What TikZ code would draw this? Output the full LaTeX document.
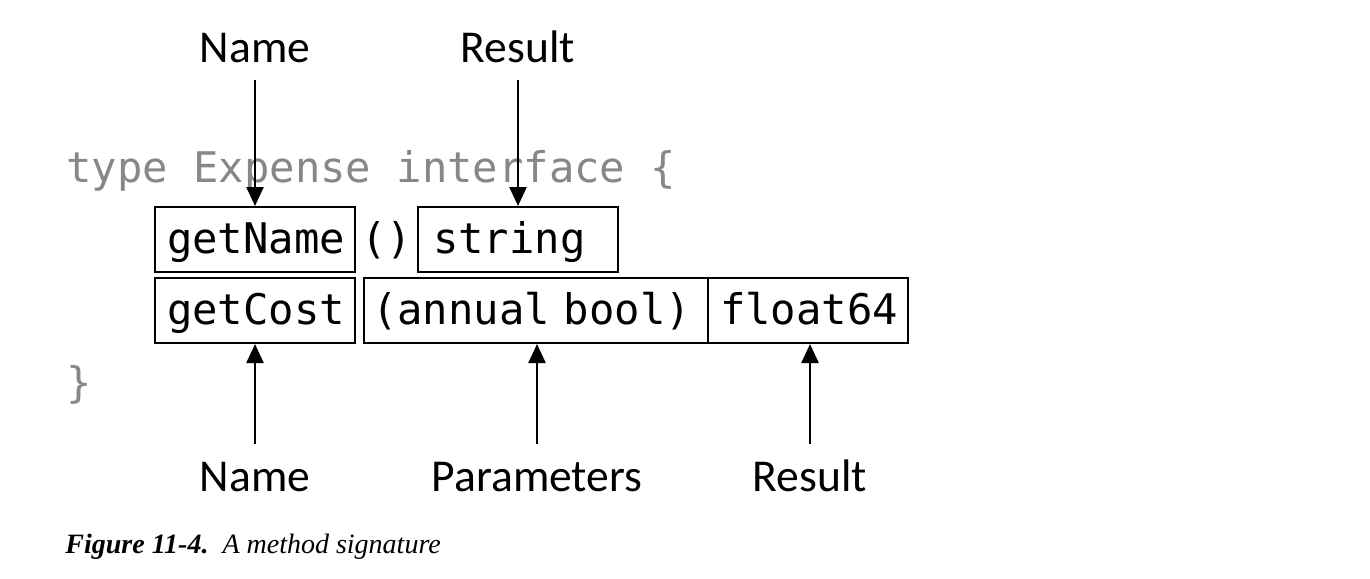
\documentclass[tikz,border=0pt]{standalone}
\usepackage{fontspec}
\setmainfont{Liberation Serif}
\newfontfamily\codefont{DejaVu Sans Mono}
\newfontfamily\labfont{Carlito}
\usetikzlibrary{arrows.meta}
\definecolor{codegray}{RGB}{135,135,135}
\begin{document}
\begin{tikzpicture}[x=0.5pt,y=-0.5pt,
  code/.style={font=\codefont\fontsize{21.1}{24}\selectfont, inner sep=0pt},
  codebox/.style={draw, line width=1pt, font=\codefont\fontsize{21.1}{24}\selectfont,
     minimum height=32.5pt, inner xsep=6pt, inner ysep=0pt, align=left,
     text height=17pt, text depth=3.5pt},
  lab/.style={font=\labfont\fontsize{22.8}{26}\selectfont, inner sep=0pt, text height=14.5pt, text depth=0pt},
  arr/.style={line width=1.2pt, -{Triangle[width=8.5pt,length=9.5pt]}},
  captext/.style={inner sep=0pt, font=\fontsize{14}{17}\selectfont}]
\useasboundingbox (0,0) rectangle (1370,578);
% code lines
\node[code, text=codegray, anchor=base west] (typeline) at (66,182) {type Expense interface \{};
\node[code, text=codegray, anchor=base west] (close) at (66,397) {\}};
% boxes
\node[codebox, text width=88pt] (getname) at (255,239.5) {getName};
\node[code, anchor=base] (paren) at (386.5,253) {()};
\node[codebox, inner xsep=7.5pt, text width=85pt] (string) at (518,239.5) {string};
\node[codebox, text width=88pt] (getcost) at (255,310.5) {getCost};
\node[codebox, inner xsep=4pt, text width=164pt] (params) at (536,310.5) {(annual bool)};
\node[codebox, text width=88pt] (float) at (808,310.5) {float64};
% labels
\node[lab, anchor=base] (nameT) at (255,62) {Name};
\node[lab, anchor=base] (resultT) at (518,62) {Result};
\node[lab, anchor=base] (nameB) at (255,491) {Name};
\node[lab, anchor=base] (paramsB) at (537,491) {Parameters};
\node[lab, anchor=base] (resultB) at (810,491) {Result};
% arrows
\draw[arr, shorten <=9pt] (nameT.south) -- (getname.north);
\draw[arr, shorten <=9pt] (resultT.south) -- (string.north);
\draw[arr, shorten <=9pt] (nameB.north) -- (getcost.south);
\draw[arr, shorten <=9pt] (paramsB.north) -- (paramsB.north |- params.south);
\draw[arr, shorten <=9pt] (resultB.north) -- (resultB.north |- float.south);
% caption
\node[captext, anchor=base west] (caption) at (65,553) {\textbf{\textit{Figure 11-4.}}\ \ \textit{A method signature}};
\end{tikzpicture}
\end{document}
